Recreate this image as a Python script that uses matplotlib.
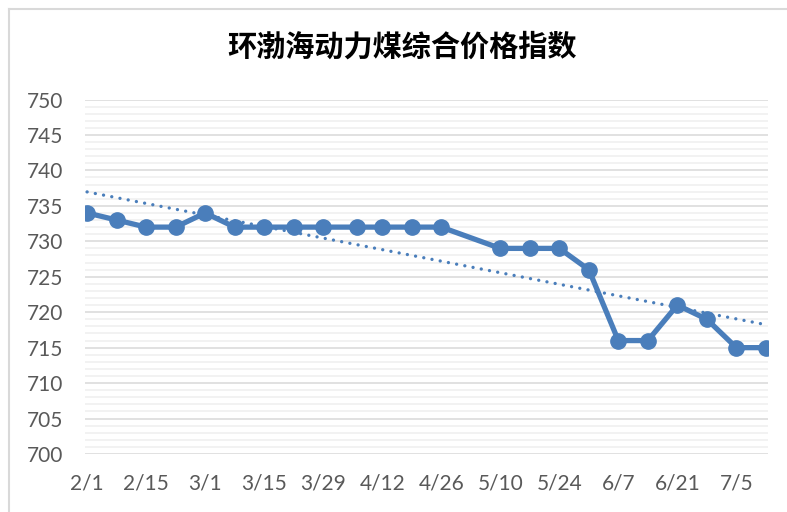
import numpy as np
import matplotlib
matplotlib.use('Agg')
import matplotlib.pyplot as plt
import matplotlib.dates as mdates
from matplotlib.lines import Line2D
import datetime as dt

plt.rcParams['font.family'] = ['Lato', 'DejaVu Sans']

# weekly index values (2019)
dates = ['2019-02-01', '2019-02-08', '2019-02-15', '2019-02-22', '2019-03-01',
         '2019-03-08', '2019-03-15', '2019-03-22', '2019-03-29', '2019-04-06',
         '2019-04-12', '2019-04-19', '2019-04-26', '2019-05-10', '2019-05-17',
         '2019-05-24', '2019-05-31', '2019-06-07', '2019-06-14', '2019-06-21',
         '2019-06-28', '2019-07-05', '2019-07-12']
values = [734, 733, 732, 732, 734, 732, 732, 732, 732, 732, 732, 732, 732,
          729, 729, 729, 726, 716, 716, 721, 719, 715, 715]
tick_dates = ['2019-02-01', '2019-02-15', '2019-03-01', '2019-03-15', '2019-03-29',
              '2019-04-12', '2019-04-26', '2019-05-10', '2019-05-24', '2019-06-07',
              '2019-06-21', '2019-07-05']
tick_labels = ['2/1', '2/15', '3/1', '3/15', '3/29', '4/12', '4/26', '5/10',
               '5/24', '6/7', '6/21', '7/5']
title = '环渤海动力煤综合价格指数'

x = np.array([mdates.date2num(dt.datetime.strptime(d, '%Y-%m-%d')) for d in dates])
y = np.array(values, dtype=float)
xt = [mdates.date2num(dt.datetime.strptime(d, '%Y-%m-%d')) for d in tick_dates]

blue = '#4A7EBB'

fig = plt.figure(figsize=(7.87, 5.12), dpi=100)
ax = fig.add_axes([85/787, 1 - 454/512, (768 - 85)/787, (454 - 99.5)/512])

ax.set_ylim(700, 750)
ax.set_xlim(x[0] - 0.5, x[-1] + 0.5)
ax.set_yticks(np.arange(700, 751, 5))
ax.set_yticks(np.arange(700, 751, 1), minor=True)
ax.grid(which='minor', axis='y', color='#f2f2f2', lw=1.4, zorder=0)
ax.grid(which='major', axis='y', color='#d9d9d9', lw=1.1, zorder=0)
ax.set_axisbelow(True)

# linear trendline
k, b = np.polyfit(x - x[0], y, 1)
ax.plot([x[0], x[-1]], [b, k * (x[-1] - x[0]) + b], color=blue, lw=2.4,
        linestyle=(0, (0.01, 2.5)), dash_capstyle='round', zorder=2)

ax.plot(x, y, color=blue, lw=3.8, marker='o', markersize=11, zorder=3)

ax.set_xticks(xt)
ax.set_xticklabels(tick_labels)
for s in ax.spines.values():
    s.set_visible(False)
ax.tick_params(axis='both', which='both', length=0, labelsize=15, colors='#595959')
ax.tick_params(axis='y', pad=16)
ax.tick_params(axis='x', pad=14)

fig.text(402/787, 1 - 47/512, title, ha='center', va='center', fontsize=21,
         family=['Noto Sans CJK SC', 'DejaVu Sans'], weight='bold', color='black')

# chart border (left and top visible)
fig.add_artist(Line2D([8.5/787, 8.5/787], [0, 1 - 8.5/512], transform=fig.transFigure,
                      color='#d9d9d9', lw=1.5))
fig.add_artist(Line2D([8.5/787, 1], [1 - 8.5/512, 1 - 8.5/512], transform=fig.transFigure,
                      color='#d9d9d9', lw=1.5))

fig.savefig('out.png', dpi=100)
